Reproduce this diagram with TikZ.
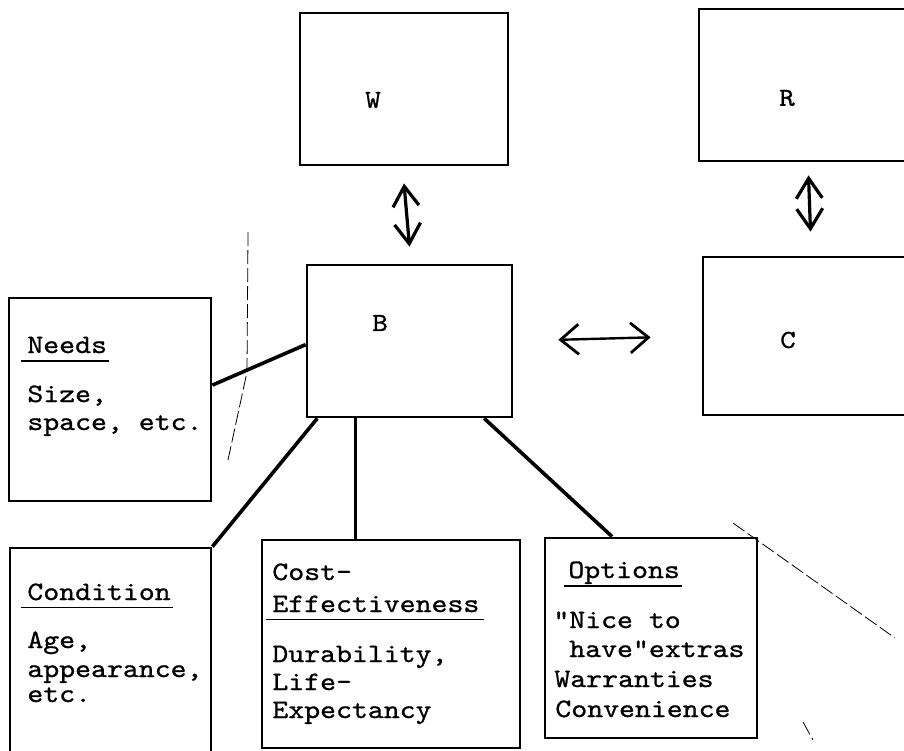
\documentclass[tikz,border=0pt]{standalone}
\usepackage{fontspec}
\usetikzlibrary{arrows.meta,fit}
\newfontfamily\typew{lmmono10-regular.otf}[FakeStretch=1.14,FakeBold=0.9]
\begin{document}
\begin{tikzpicture}[x=0.5pt,y=-0.5pt,
  box/.style={draw,line width=1.4pt,inner sep=0pt},
  txt/.style={anchor=base west,inner sep=0pt,font=\typew\fontsize{13.3pt}{15pt}\selectfont},
  lettr/.style={inner sep=0pt,font=\typew\fontsize{13pt}{15pt}\selectfont},
  uline/.style={line width=0.7pt},
  link/.style={line width=1.8pt},
  vdbl/.style={line width=1.6pt,
    {Straight Barb[length=10pt,width=13pt,line width=1.6pt]}-{Straight Barb[length=10pt,width=13pt,line width=1.6pt]}},
  hdbl/.style={line width=1.2pt,
    {Straight Barb[length=9pt,width=15pt,line width=1.4pt]}-{Straight Barb[length=9pt,width=15pt,line width=1.4pt]}},
  faint/.style={line width=0.4pt,dash pattern=on 7pt off 2pt}]

\useasboundingbox (0,0) rectangle (904,750);
\fill[white] (0,0) rectangle (904,750);
\clip (0,0) rectangle (904,750);

% main boxes
\node[box,fit={(300,13) (508,165)}] (W) {};
\node[box,fit={(307,265) (512,417)}] (B) {};
\node[box,fit={(699,9) (930,161)}] (R) {};
\node[box,fit={(703,257) (930,415)}] (C) {};

\node[lettr] (Wl) at (373,100) {W};
\node[lettr] (Bl) at (380,323) {B};
\node[lettr] (Rl) at (787,98) {R};
\node[lettr] (Cl) at (788,340) {C};

% attribute boxes
\node[box,fit={(9,298) (211,501)}] (needs) {};
\node[box,fit={(10,548) (211,760)}] (cond) {};
\node[box,fit={(262,540) (520,748)}] (cost) {};
\node[box,fit={(545,538) (757,738)}] (opts) {};

% Needs
\node[txt] (needsH) at (27,353) {Needs};
\node[txt] (needs1) at (27,402) {Size,};
\node[txt] (needs2) at (27,430) {space, etc.};
\draw[uline] ([xshift=-3pt,yshift=-4pt]needsH.base west) -- ([xshift=1pt,yshift=-4pt]needsH.base east);

% Condition
\node[txt] (condH) at (27,600) {Condition};
\node[txt] (cond1) at (27,648) {Age,};
\node[txt] (cond2) at (27,677) {appearance,};
\node[txt] (cond3) at (27,702) {etc.};
\draw[uline] ([xshift=-3pt,yshift=-3.8pt]condH.base west) -- ([xshift=1pt,yshift=-3.8pt]condH.base east);

% Cost-Effectiveness
\node[txt] (costH1) at (272,580) {Cost-};
\node[txt] (costH2) at (272,612) {Effectiveness};
\node[txt] (cost1) at (272,662) {Durability,};
\node[txt] (cost2) at (272,690) {Life-};
\node[txt] (cost3) at (272,718) {Expectancy};
\draw[uline] ([xshift=-3pt,yshift=-3.8pt]costH2.base west) -- ([xshift=2pt,yshift=-3.8pt]costH2.base east);

% Options
\node[txt] (optsH) at (568,578) {Options};
\node[txt] (opts1) at (553,628) {"Nice to};
\node[txt] (opts2) at (553,657) {\ have"extras};
\node[txt] (opts3) at (554,687) {Warranties};
\node[txt] (opts4) at (555,717) {Convenience};
\draw[uline] ([xshift=-2pt,yshift=-4pt]optsH.base west) -- ([xshift=1pt,yshift=-4pt]optsH.base east);

% two-way arrows
\draw[vdbl] ([yshift=-8.5pt]W.south) -- ([yshift=8.5pt]B.north);
\draw[vdbl] ([xshift=-3pt,yshift=-6.5pt]R.south) -- ([xshift=-3pt,yshift=12pt]C.north);
\draw[hdbl,shorten <=22.5pt,shorten >=25.5pt] (B.east) -- (C.west);

% links from B to its attributes
\draw[link] (needs.8) -- (B.182);
\draw[link] (B.220) -- (cond.north east);
\draw[link] (B.235) -- (B.235 |- cost.north);
\draw[link] (B.314) -- (opts.111);

% faint stray strokes
\coordinate (s1) at (733,523);
\coordinate (s2) at (895,638);
\coordinate (s3) at (803,722);
\coordinate (s4) at (813,740);
\coordinate (s5) at (248,232);
\coordinate (s6) at (247,372);
\coordinate (s7) at (228,460);
\draw[faint] (s1) -- (s2);
\draw[faint] (s3) -- (s4);
\draw[faint] (s5) -- (s6) -- (s7);
\end{tikzpicture}
\end{document}
